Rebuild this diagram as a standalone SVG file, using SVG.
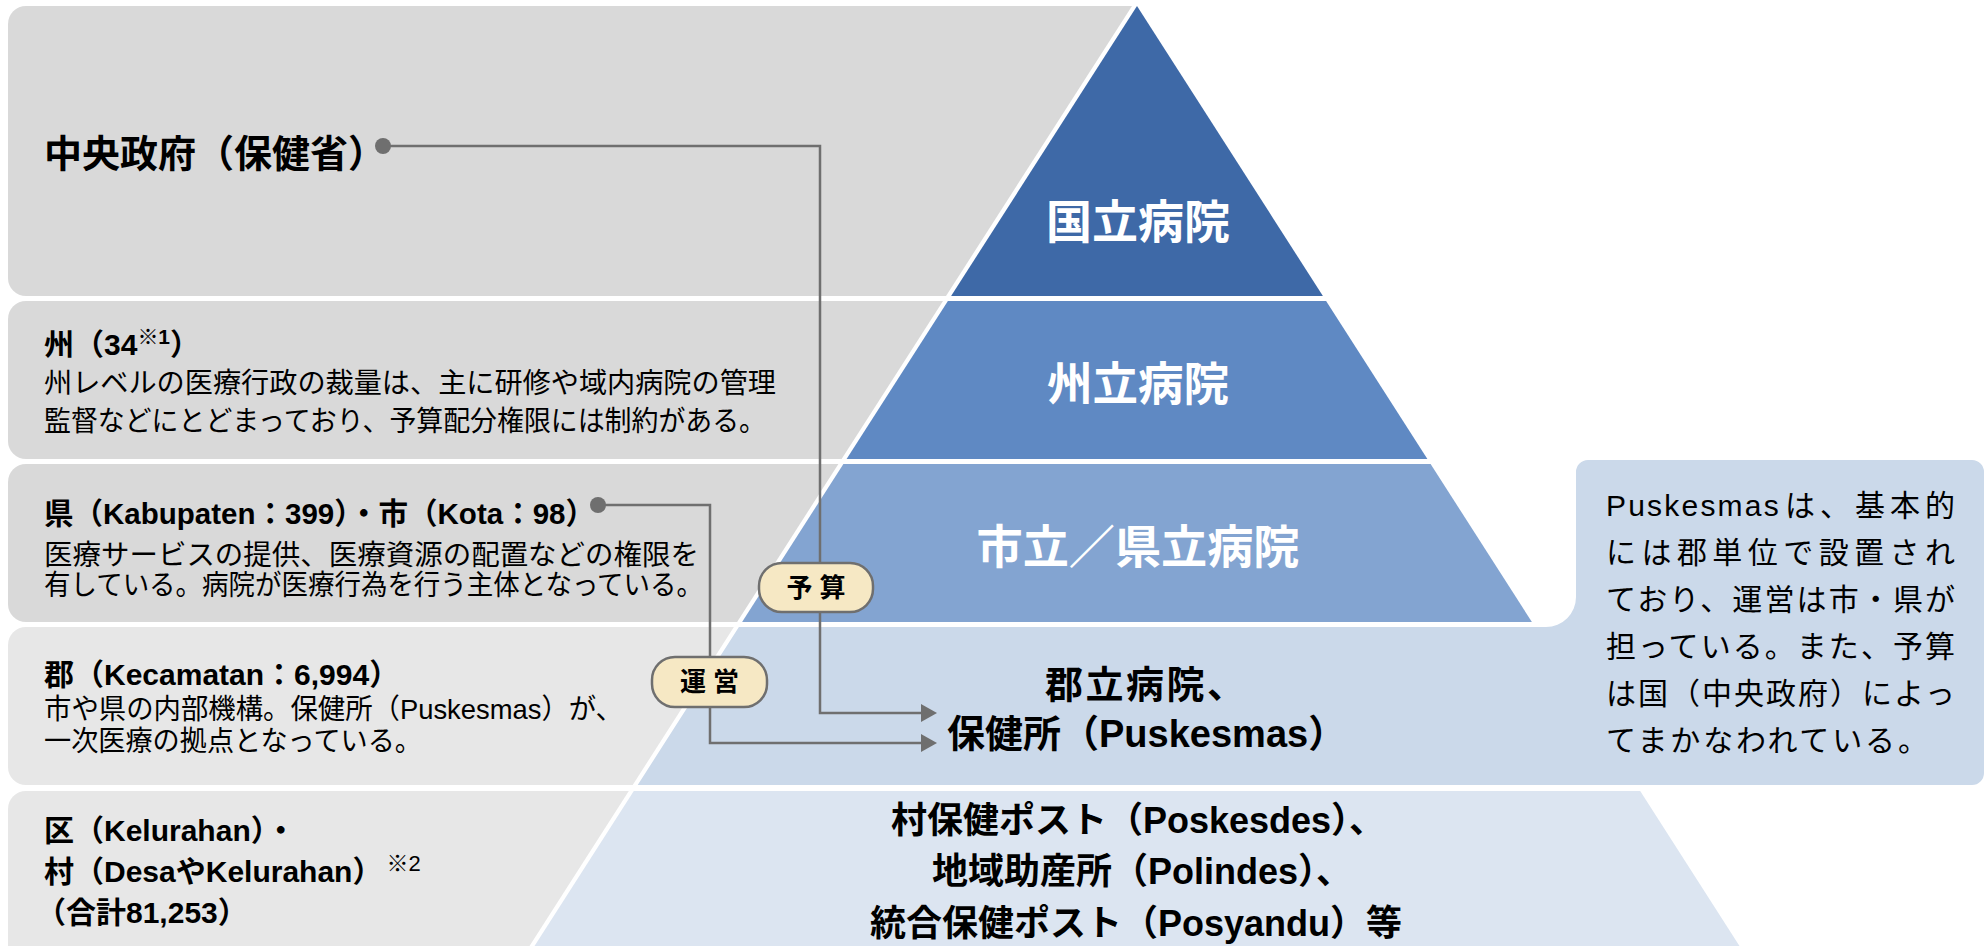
<svg xmlns="http://www.w3.org/2000/svg" width="1988" height="946" viewBox="0 0 1988 946">
<defs>
<style>
text{font-family:"Liberation Sans","Noto Sans CJK JP",sans-serif;}
.hd{font-size:30px;font-weight:700;fill:#000}
.bd{font-size:28px;font-weight:400;fill:#000}
.tw{font-size:46px;font-weight:700;fill:#fff;text-anchor:middle}
.tb{font-weight:700;fill:#000}
.co{font-size:30px;font-weight:400;fill:#000}
.pill{fill:#f6e8c4;stroke:#6f6f6f;stroke-width:2.5}
.pt{font-size:26px;font-weight:700;fill:#000;text-anchor:middle}
.conn{fill:none;stroke:#6f6f6f;stroke-width:2.5}
.dot{fill:#6f6f6f}
.g1{fill:#d9d9d9}
.g2{fill:#e7e7e7}
</style>
<marker id="arr" viewBox="0 0 16 18" refX="5" refY="9" markerWidth="16" markerHeight="18" markerUnits="userSpaceOnUse" orient="auto"><path d="M0,0 L16,9 L0,18 Z" fill="#6f6f6f"/></marker>
</defs>
<rect width="1988" height="946" fill="#fff"/>

<g id="box-central">
<path class="g1" d="M26,6 H1132 L946,296 H26 A18,18 0 0 1 8,278 V24 A18,18 0 0 1 26,6 Z"/>
<text class="tb" x="44" y="167" font-size="38">中央政府（保健省）</text>
</g>
<g id="box-province">
<path class="g1" d="M26,301 H943 L841.6,459 H26 A18,18 0 0 1 8,441 V319 A18,18 0 0 1 26,301 Z"/>
<text class="hd" x="44" y="355">州（34<tspan font-size="21" dy="-11">※1</tspan><tspan dy="11">）</tspan></text>
<text class="bd" x="44" y="393" textLength="732" lengthAdjust="spacingAndGlyphs">州レベルの医療行政の裁量は、主に研修や域内病院の管理</text>
<text class="bd" x="44" y="431" textLength="722" lengthAdjust="spacingAndGlyphs">監督などにとどまっており、予算配分権限には制約がある。</text>
</g>
<g id="box-regency">
<path class="g1" d="M26,464 H838.4 L737.1,622 H26 A18,18 0 0 1 8,604 V482 A18,18 0 0 1 26,464 Z"/>
<text class="hd" x="44" y="524" textLength="551" lengthAdjust="spacingAndGlyphs">県（Kabupaten：399）・市（Kota：98）</text>
<text class="bd" x="44" y="565" textLength="655" lengthAdjust="spacingAndGlyphs">医療サービスの提供、医療資源の配置などの権限を</text>
<text class="bd" x="44" y="595" textLength="659" lengthAdjust="spacingAndGlyphs">有している。病院が医療行為を行う主体となっている。</text>
</g>
<g id="box-district">
<path class="g2" d="M26,627 H733.9 L632.7,785 H26 A18,18 0 0 1 8,767 V645 A18,18 0 0 1 26,627 Z"/>
<text class="hd" x="44" y="685">郡（Kecamatan：6,994）</text>
<text class="bd" x="44" y="719" textLength="579" lengthAdjust="spacingAndGlyphs">市や県の内部機構。保健所（Puskesmas）が、</text>
<text class="bd" x="44" y="751" textLength="378" lengthAdjust="spacingAndGlyphs">一次医療の拠点となっている。</text>
</g>
<g id="box-village">
<path class="g2" d="M26,791 H628.8 L529.5,946 H8 V809 A18,18 0 0 1 26,791 Z"/>
<text class="hd" x="44" y="841">区（Kelurahan）・</text>
<text class="hd" x="44" y="882">村（DesaやKelurahan）<tspan font-size="22" font-weight="400" dx="4" dy="-11">※2</tspan></text>
<text class="hd" x="36" y="923">（合計81,253）</text>
</g>

<g id="tier-national">
<path fill="#3e69a7" d="M1137,6 L1322.9,296 L951.1,296 Z"/>
<text class="tw" x="1138" y="238" textLength="184" lengthAdjust="spacingAndGlyphs">国立病院</text>
</g>
<g id="tier-province">
<path fill="#5f89c3" d="M947.9,301 L1326.1,301 L1427.4,459 L846.6,459 Z"/>
<text class="tw" x="1138" y="400" textLength="182" lengthAdjust="spacingAndGlyphs">州立病院</text>
</g>
<g id="tier-city">
<path fill="#83a4d1" d="M843.4,464 L1430.6,464 L1531.9,622 L742.1,622 Z"/>
<text class="tw" x="1138" y="563" textLength="323" lengthAdjust="spacingAndGlyphs">市立／県立病院</text>
</g>
<g id="tier-district">
<path fill="#cbd9ea" d="M738.9,627 H1546 A30,30 0 0 0 1576,597 V472 A12,12 0 0 1 1588,460 H1972 A12,12 0 0 1 1984,472 V773 A12,12 0 0 1 1972,785 H637.7 Z"/>
<text class="tb" x="1045" y="698" font-size="38" textLength="200" lengthAdjust="spacing">郡立病院、</text>
<text class="tb" x="947" y="747" font-size="38">保健所（Puskesmas）</text>
</g>
<g id="callout">
<text class="co" x="1606" y="516" letter-spacing="2.2">Puskesmas</text>
<text class="co" x="1785" y="516" textLength="170" lengthAdjust="spacing">は、基本的</text>
<text class="co" x="1606" y="563" textLength="349" lengthAdjust="spacing">には郡単位で設置され</text>
<text class="co" x="1606" y="610" textLength="349" lengthAdjust="spacing">ており、運営は市・県が</text>
<text class="co" x="1606" y="657" textLength="349" lengthAdjust="spacing">担っている。また、予算</text>
<text class="co" x="1606" y="704" textLength="349" lengthAdjust="spacing">は国（中央政府）によっ</text>
<text class="co" x="1606" y="751" textLength="322" lengthAdjust="spacing">てまかなわれている。</text>
</g>
<g id="tier-village">
<path fill="#dce5f1" d="M633.8,791 L1640.2,791 L1739.5,946 L534.5,946 Z"/>
<text class="tb" x="891" y="833" font-size="36">村保健ポスト（Poskesdes）、</text>
<text class="tb" x="932" y="884" font-size="36">地域助産所（Polindes）、</text>
<text class="tb" x="870" y="936" font-size="36">統合保健ポスト（Posyandu）等</text>
</g>

<g id="connectors">
<path class="conn" d="M383,146 H820 V713 H926" marker-end="url(#arr)"/>
<path class="conn" d="M598,505 H710 V743 H926" marker-end="url(#arr)"/>
<circle class="dot" cx="383" cy="146" r="8"/>
<circle class="dot" cx="598" cy="505" r="8"/>
</g>
<g id="label-budget">
<rect class="pill" x="759" y="563" width="114" height="49" rx="23"/>
<text class="pt" x="816" y="597">予 算</text>
</g>
<g id="label-operation">
<rect class="pill" x="652" y="657" width="115" height="50" rx="23"/>
<text class="pt" x="709.5" y="691">運 営</text>
</g>
</svg>
